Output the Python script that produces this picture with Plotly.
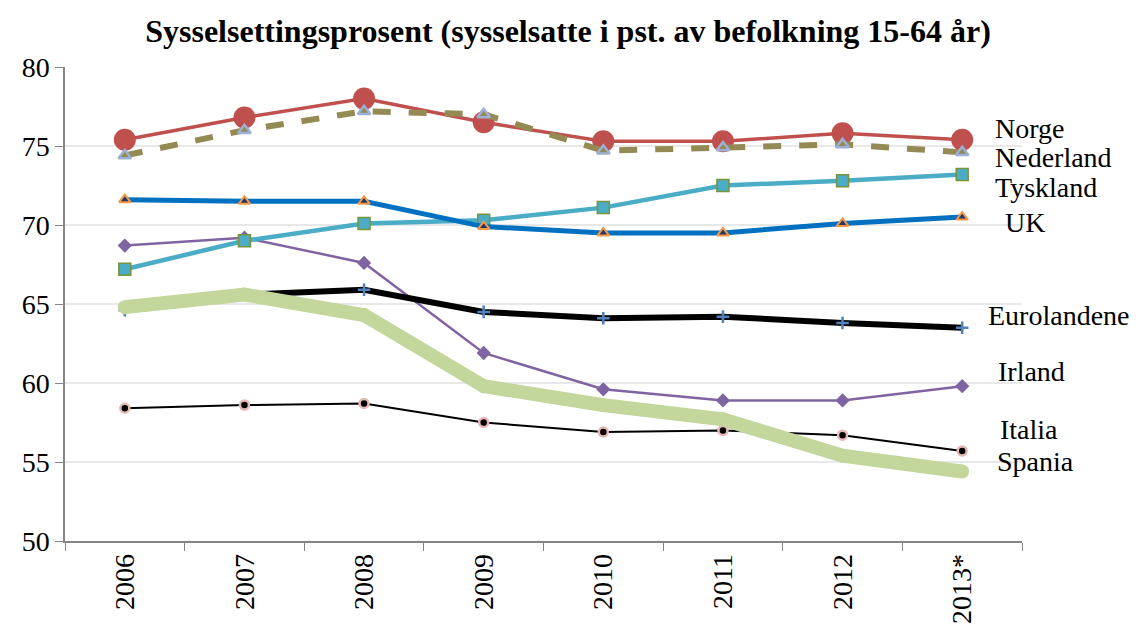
import plotly.graph_objects as go

years = ["2006", "2007", "2008", "2009", "2010", "2011", "2012", "2013*"]
norge = [75.4, 76.8, 78.0, 76.5, 75.3, 75.3, 75.8, 75.4]
nederland = [74.4, 76.0, 77.2, 77.0, 74.7, 74.9, 75.1, 74.6]
tyskland = [67.2, 69.0, 70.1, 70.3, 71.1, 72.5, 72.8, 73.2]
uk = [71.6, 71.5, 71.5, 69.9, 69.5, 69.5, 70.1, 70.5]
eurolandene = [64.6, 65.6, 65.9, 64.5, 64.1, 64.2, 63.8, 63.5]
irland = [68.7, 69.2, 67.6, 61.9, 59.6, 58.9, 58.9, 59.8]
italia = [58.4, 58.6, 58.7, 57.5, 56.9, 57.0, 56.7, 55.7]
spania = [64.8, 65.6, 64.3, 59.8, 58.6, 57.7, 55.4, 54.4]

FONT = "Liberation Serif, Times New Roman, serif"

fig = go.Figure()

fig.add_trace(go.Scatter(x=years, y=italia, mode="lines+markers", name="Italia",
    line=dict(color="black", width=2),
    marker=dict(symbol="circle", size=9, color="black", line=dict(color="#E6B9B8", width=2.5))))
fig.add_trace(go.Scatter(x=years, y=irland, mode="lines+markers", name="Irland",
    line=dict(color="#8064A2", width=2.5),
    marker=dict(symbol="diamond", size=11, color="#8064A2")))
fig.add_trace(go.Scatter(x=years, y=eurolandene, mode="lines+markers", name="Eurolandene",
    line=dict(color="black", width=6),
    marker=dict(symbol="cross-thin", size=9, color="#4F81BD", line=dict(color="#4F81BD", width=2.5))))
fig.add_trace(go.Scatter(x=years, y=spania, mode="lines+markers", name="Spania",
    line=dict(color="#C3D69B", width=14),
    marker=dict(symbol="circle", size=14, color="#C3D69B", line=dict(color="#CCDDAA", width=0))))
fig.add_trace(go.Scatter(x=years, y=tyskland, mode="lines+markers", name="Tyskland",
    line=dict(color="#4BACC6", width=4.5),
    marker=dict(symbol="square", size=12, color="#4BACC6", line=dict(color="#77933C", width=1.5))))
fig.add_trace(go.Scatter(x=years, y=uk, mode="lines+markers", name="UK",
    line=dict(color="#0070C0", width=5),
    marker=dict(symbol="triangle-up", size=10, color="#1F3864", line=dict(color="#F79646", width=2))))
fig.add_trace(go.Scatter(x=years, y=norge, mode="lines+markers", name="Norge",
    line=dict(color="#C0504D", width=3.5),
    marker=dict(symbol="circle", size=22, color="#C0504D")))
fig.add_trace(go.Scatter(x=years, y=nederland, mode="lines+markers", name="Nederland",
    line=dict(color="#948A54", width=6, dash="dash"),
    marker=dict(symbol="triangle-up", size=11, color="#948A54", line=dict(color="#9BB0D4", width=2.5))))

labels = [("Norge", 993, 129), ("Nederland", 993, 157), ("Tyskland", 993, 187),
          ("UK", 1003, 222), ("Eurolandene", 986, 315), ("Irland", 996, 371),
          ("Italia", 998, 429), ("Spania", 995, 461)]
W, H = 1138, 628
L, R, T, B = 65, 116, 67, 87
pw, ph = W - L - R, H - T - B
for text, px, py in labels:
    fig.add_annotation(text=text, xref="paper", yref="paper",
        x=(px - L) / pw, y=1 - (py - T) / ph, xanchor="left", yanchor="middle",
        showarrow=False, font=dict(family=FONT, size=28, color="black"))

fig.update_layout(
    width=W, height=H,
    margin=dict(l=L, r=R, t=T, b=B, autoexpand=False),
    paper_bgcolor="white", plot_bgcolor="white",
    showlegend=False,
    title=dict(text="<b>Sysselsettingsprosent (sysselsatte i pst. av befolkning 15-64 år)</b>",
               x=(568 - L) / pw, xref="paper", xanchor="center", y=1 - 31 / H, yanchor="middle",
               font=dict(family=FONT, size=32, color="black")),
    font=dict(family=FONT, size=28, color="black"),
)
fig.update_xaxes(type="category", range=[-0.5, 7.5], tickson="boundaries",
    ticks="outside", ticklen=8, tickcolor="#868686", tickangle=-90, automargin=False,
    showline=True, linecolor="#868686", linewidth=1.5, showgrid=False,
    tickfont=dict(family=FONT, size=28, color="black"))
fig.update_yaxes(range=[50, 80], dtick=5, ticks="outside", ticklen=8, tickcolor="#868686",
    showline=True, linecolor="#868686", linewidth=1.5, automargin=False,
    showgrid=True, gridcolor="#E8E8E8", gridwidth=1.5, zeroline=False,
    tickfont=dict(family=FONT, size=28, color="black"))

fig.write_html("out.html", config={"displayModeBar": False},
    post_script="document.body.style.margin='0px';document.body.style.overflow='hidden';")
